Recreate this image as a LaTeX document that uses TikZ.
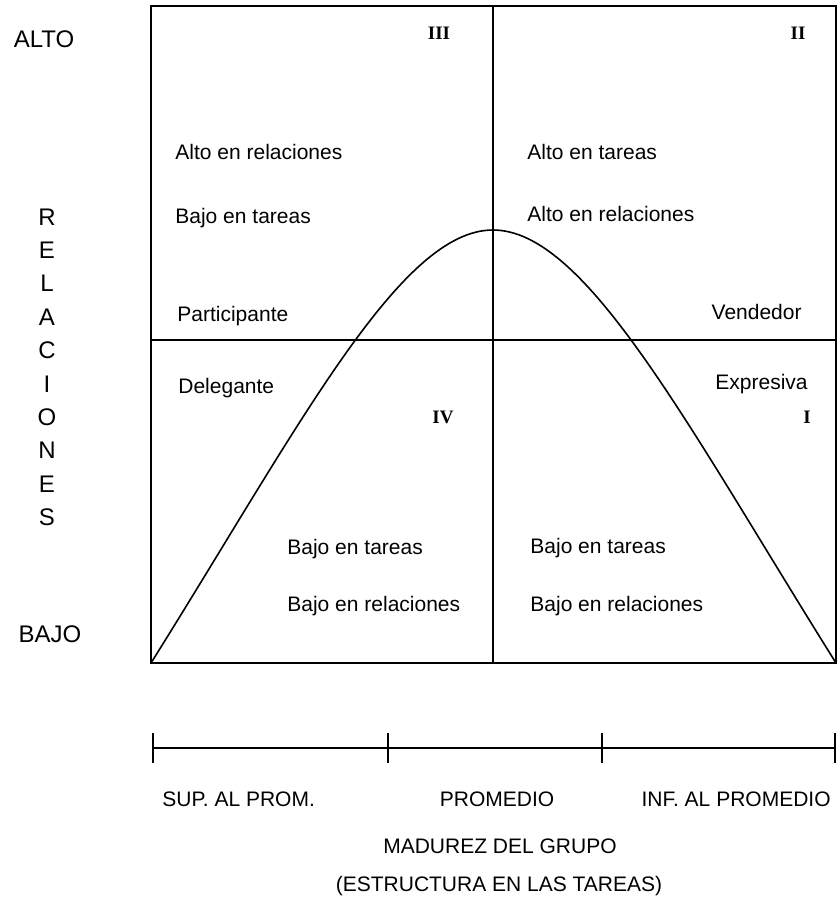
\documentclass[tikz,border=0pt]{standalone}
\usepackage{fontspec}
\setmainfont{Liberation Sans}
\newfontfamily\numfont{Liberation Serif}
\tikzset{
  lbl/.style={font=\fontsize{10.5}{12}\selectfont, inner sep=0pt},
  axlbl/.style={font=\fontsize{12}{14}\selectfont, inner sep=0pt},
  num/.style={font=\numfont\bfseries\fontsize{9.5}{11}\selectfont, inner sep=0pt},
  frame/.style={line width=1.1pt},
}
\begin{document}
\begin{tikzpicture}[x=0.5pt,y=-0.5pt]
        \useasboundingbox (0,0) rectangle (838,900);
        % cuadro y cuadrantes
        \coordinate (nw) at (151,6);
        \coordinate (se) at (836,663);
        \coordinate (sw) at (151,663);
        \coordinate (n) at (493,6);
        \coordinate (s) at (493,663);
        \coordinate (w) at (151,340);
        \coordinate (e) at (836,340);
        \coordinate (peak) at (493,230);
        \draw[frame] (nw) rectangle (se);
        \draw[frame] (n)--(s);
        \draw[frame] (w)--(e);

        % curva
        \draw[line width=0.8pt] (sw) .. controls (300,425) and (400,230) .. (peak)
            .. controls (586,230) and (687,425) .. (se);

        % eje vertical
        \node[axlbl, anchor=base] (alto) at (44,47) {ALTO};
        \node[axlbl, anchor=base] (bajo) at (50,642) {BAJO};
        \foreach \l [count=\i from 0] in {R,E,L,A,C,I,O,N,E,S}
            \node[axlbl, anchor=base] (rel\i) at (47,{225+33.4*\i}) {\l};

        % numeros de cuadrante
        \node[num, anchor=base] (q3) at (439,39) {III};
        \node[num, anchor=base] (q2) at (798,39) {II};
        \node[num, anchor=base] (q4) at (443,423) {IV};
        \node[num, anchor=base] (q1) at (807,423) {I};

        % textos de cuadrante
        \node[lbl, anchor=base west] (t3a) at (175,159) {Alto en relaciones};
        \node[lbl, anchor=base west] (t3b) at (175,223) {Bajo en tareas};
        \node[lbl, anchor=base west] (t3c) at (177,321) {Participante};
        \node[lbl, anchor=base west] (t2a) at (527,159) {Alto en tareas};
        \node[lbl, anchor=base west] (t2b) at (527,221) {Alto en relaciones};
        \node[lbl, anchor=base east] (t2c) at (802,319) {Vendedor};
        \node[lbl, anchor=base west] (t4a) at (178,393) {Delegante};
        \node[lbl, anchor=base east] (t1a) at (808,389) {Expresiva};
        \node[lbl, anchor=base west] (t4b) at (287,554) {Bajo en tareas};
        \node[lbl, anchor=base west] (t4c) at (287,611) {Bajo en relaciones};
        \node[lbl, anchor=base west] (t1b) at (530,553) {Bajo en tareas};
        \node[lbl, anchor=base west] (t1c) at (530,611) {Bajo en relaciones};

        % eje horizontal
        \coordinate (a0) at (153,748);
        \coordinate (a1) at (388,748);
        \coordinate (a2) at (602,748);
        \coordinate (a3) at (835,748);
        \draw[frame] (a0)--(a3);
        \foreach \p in {a0,a1,a2,a3}
            \draw[frame] ([yshift=7.5pt]\p)--([yshift=-7.5pt]\p);

        \node[lbl, anchor=base west] (sup) at (162,806) {SUP. AL PROM.};
        \node[lbl, anchor=base] (prom) at (497,806) {PROMEDIO};
        \node[lbl, anchor=base east] (inf) at (831,806) {INF. AL PROMEDIO};
        \node[lbl, anchor=base] (mad) at (500,853) {MADUREZ DEL GRUPO};
        \node[lbl, anchor=base] (est) at (499,891) {(ESTRUCTURA EN LAS TAREAS)};
\end{tikzpicture}
\end{document}
